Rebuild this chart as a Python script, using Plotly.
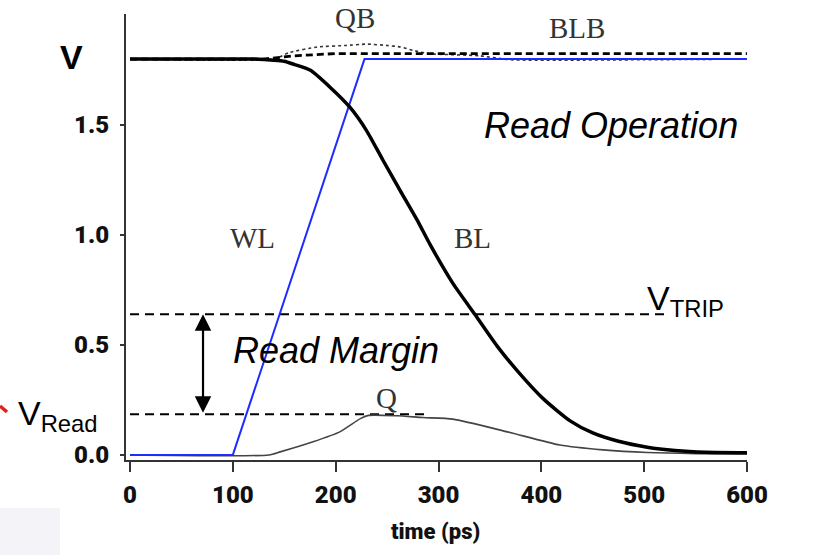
import plotly.graph_objects as go

# ---------------- data ----------------
t_wl = [0, 100, 228, 600]
v_wl = [0.0, 0.0, 1.80, 1.80]

t_bl = [0, 120, 140, 150, 160, 175, 195, 214, 230, 246, 263, 279, 292, 314, 336, 357,
        379, 402, 428, 450, 475, 503, 530, 560, 600]
v_bl = [1.80, 1.80, 1.795, 1.79, 1.775, 1.75, 1.67, 1.58, 1.475, 1.34, 1.20, 1.07, 0.955,
        0.78, 0.635, 0.495, 0.37, 0.255, 0.155, 0.10, 0.062, 0.035, 0.02, 0.012, 0.01]

t_q = [0, 135, 146, 178, 204, 224, 232, 260, 285, 314, 367, 418, 460, 503, 550, 600]
v_q = [0.0, 0.0, 0.014, 0.06, 0.105, 0.165, 0.18, 0.178, 0.17, 0.163, 0.105, 0.045,
       0.023, 0.011, 0.006, 0.005]

t_blb = [0, 130, 160, 200, 600]
v_blb = [1.80, 1.80, 1.815, 1.825, 1.825]

t_qb = [0, 140, 155, 182, 210, 230, 250, 263, 275, 290, 340, 370, 500, 600]
v_qb = [1.80, 1.80, 1.83, 1.855, 1.862, 1.868, 1.862, 1.855, 1.84, 1.825, 1.815, 1.797,
        1.797, 1.80]

v_trip = 0.64
t_trip = [0, 520]
v_read = 0.185
t_read = [0, 289]
t_margin_arrow = 71

x_ticks = [0, 100, 200, 300, 400, 500, 600]
y_ticks = [0.0, 0.5, 1.0, 1.5]
y_tick_text = ["0.0", "0.5", "1.0", "1.5"]

# ---------------- layout helpers ----------------
W, H = 830, 555
L, R, T, B = 126, 83, 14, 95
PW, PH = W - L - R, H - T - B


def px(x):
    return (x - L) / PW


def py(y):
    return (H - B - y) / PH


heavy = "Roboto, DejaVu Sans, sans-serif"
tick_font = dict(family=heavy, size=24, color="#111", weight=900)
serif = dict(family="Liberation Serif, Times New Roman, serif", size=29, color="#333")
sans_it = dict(family="Liberation Sans, Arial, sans-serif", size=36, color="#000", style="italic")
sans = dict(family="Liberation Sans, Arial, sans-serif", size=34, color="#000")

fig = go.Figure()

fig.add_trace(go.Scatter(x=t_trip, y=[v_trip] * len(t_trip), mode="lines",
                         line=dict(color="#000", width=2, dash="9px,6px")))
fig.add_trace(go.Scatter(x=t_read, y=[v_read] * len(t_read), mode="lines",
                         line=dict(color="#000", width=2, dash="9px,6px")))
fig.add_trace(go.Scatter(x=t_q, y=v_q, mode="lines",
                         line=dict(color="#444", width=1.6, shape="spline", smoothing=0.6)))
fig.add_trace(go.Scatter(x=t_qb, y=v_qb, mode="lines",
                         line=dict(color="#333", width=1.6, dash="dot", shape="spline", smoothing=0.5)))
fig.add_trace(go.Scatter(x=t_wl, y=v_wl, mode="lines", line=dict(color="#1f2cff", width=2)))
fig.add_trace(go.Scatter(x=t_blb, y=v_blb, mode="lines",
                         line=dict(color="#000", width=2.8, dash="7px,4px")))
fig.add_trace(go.Scatter(x=t_bl, y=v_bl, mode="lines",
                         line=dict(color="#000", width=3.5, shape="spline", smoothing=0.6)))

ann = []
# double arrow (read margin)
ann.append(dict(x=t_margin_arrow, y=v_trip, ax=t_margin_arrow, ay=v_read, xref="x", yref="y",
                axref="x", ayref="y", showarrow=True, arrowhead=2, arrowside="end+start",
                arrowsize=1.5, arrowwidth=2.2, arrowcolor="#000", text=""))


def lab(text, x, y, font, xanchor="center", yanchor="middle"):
    ann.append(dict(text=text, x=px(x), y=py(y), xref="paper", yref="paper", showarrow=False,
                    xanchor=xanchor, yanchor=yanchor, font=font))


lab("QB", 355, 18, serif)
lab("BLB", 577, 28, serif)
lab("WL", 252, 238, serif)
lab("BL", 472, 238, serif)
lab("Q", 386, 398, serif)
lab("Read Operation", 611, 125, sans_it)
lab("Read Margin", 336, 350, sans_it)
lab("V<sub>TRIP</sub>", 645, 300, sans, xanchor="left")
lab("V<sub>Read</sub>", 16, 415, sans, xanchor="left")
lab("V", 71, 57, dict(family="Liberation Sans, Arial, sans-serif", size=34, color="#000", weight="bold"))
lab("time (ps)", 435, 531, dict(family=heavy, size=22, color="#111", weight=900))

shapes = [
    dict(type="rect", xref="paper", yref="paper", x0=px(0), x1=px(60), y0=py(555), y1=py(508),
         fillcolor="#f4f3f8", line=dict(width=0), layer="below"),
    dict(type="line", xref="paper", yref="paper", x0=px(0), y0=py(406), x1=px(7), y1=py(412),
         line=dict(color="#e0201a", width=3.5)),
]

fig.update_layout(
    width=W, height=H, margin=dict(l=L, r=R, t=T, b=B),
    paper_bgcolor="white", plot_bgcolor="white", showlegend=False,
    annotations=ann, shapes=shapes,
    xaxis=dict(range=[-3.9, 600], tickvals=x_ticks, ticks="outside", ticklen=10, tickwidth=2,
               tickcolor="#333", showline=True, linecolor="#333", linewidth=2, showgrid=False,
               zeroline=False, tickfont=tick_font, ticklabelstandoff=2),
    yaxis=dict(range=[-0.023, 2.005], tickvals=y_ticks, ticktext=y_tick_text, ticks="outside",
               ticklen=4, tickwidth=2, tickcolor="#333", showline=True, linecolor="#333",
               linewidth=2, showgrid=False, zeroline=False, tickfont=tick_font,
               ticklabelstandoff=6),
)

fig.write_html("out.html")
